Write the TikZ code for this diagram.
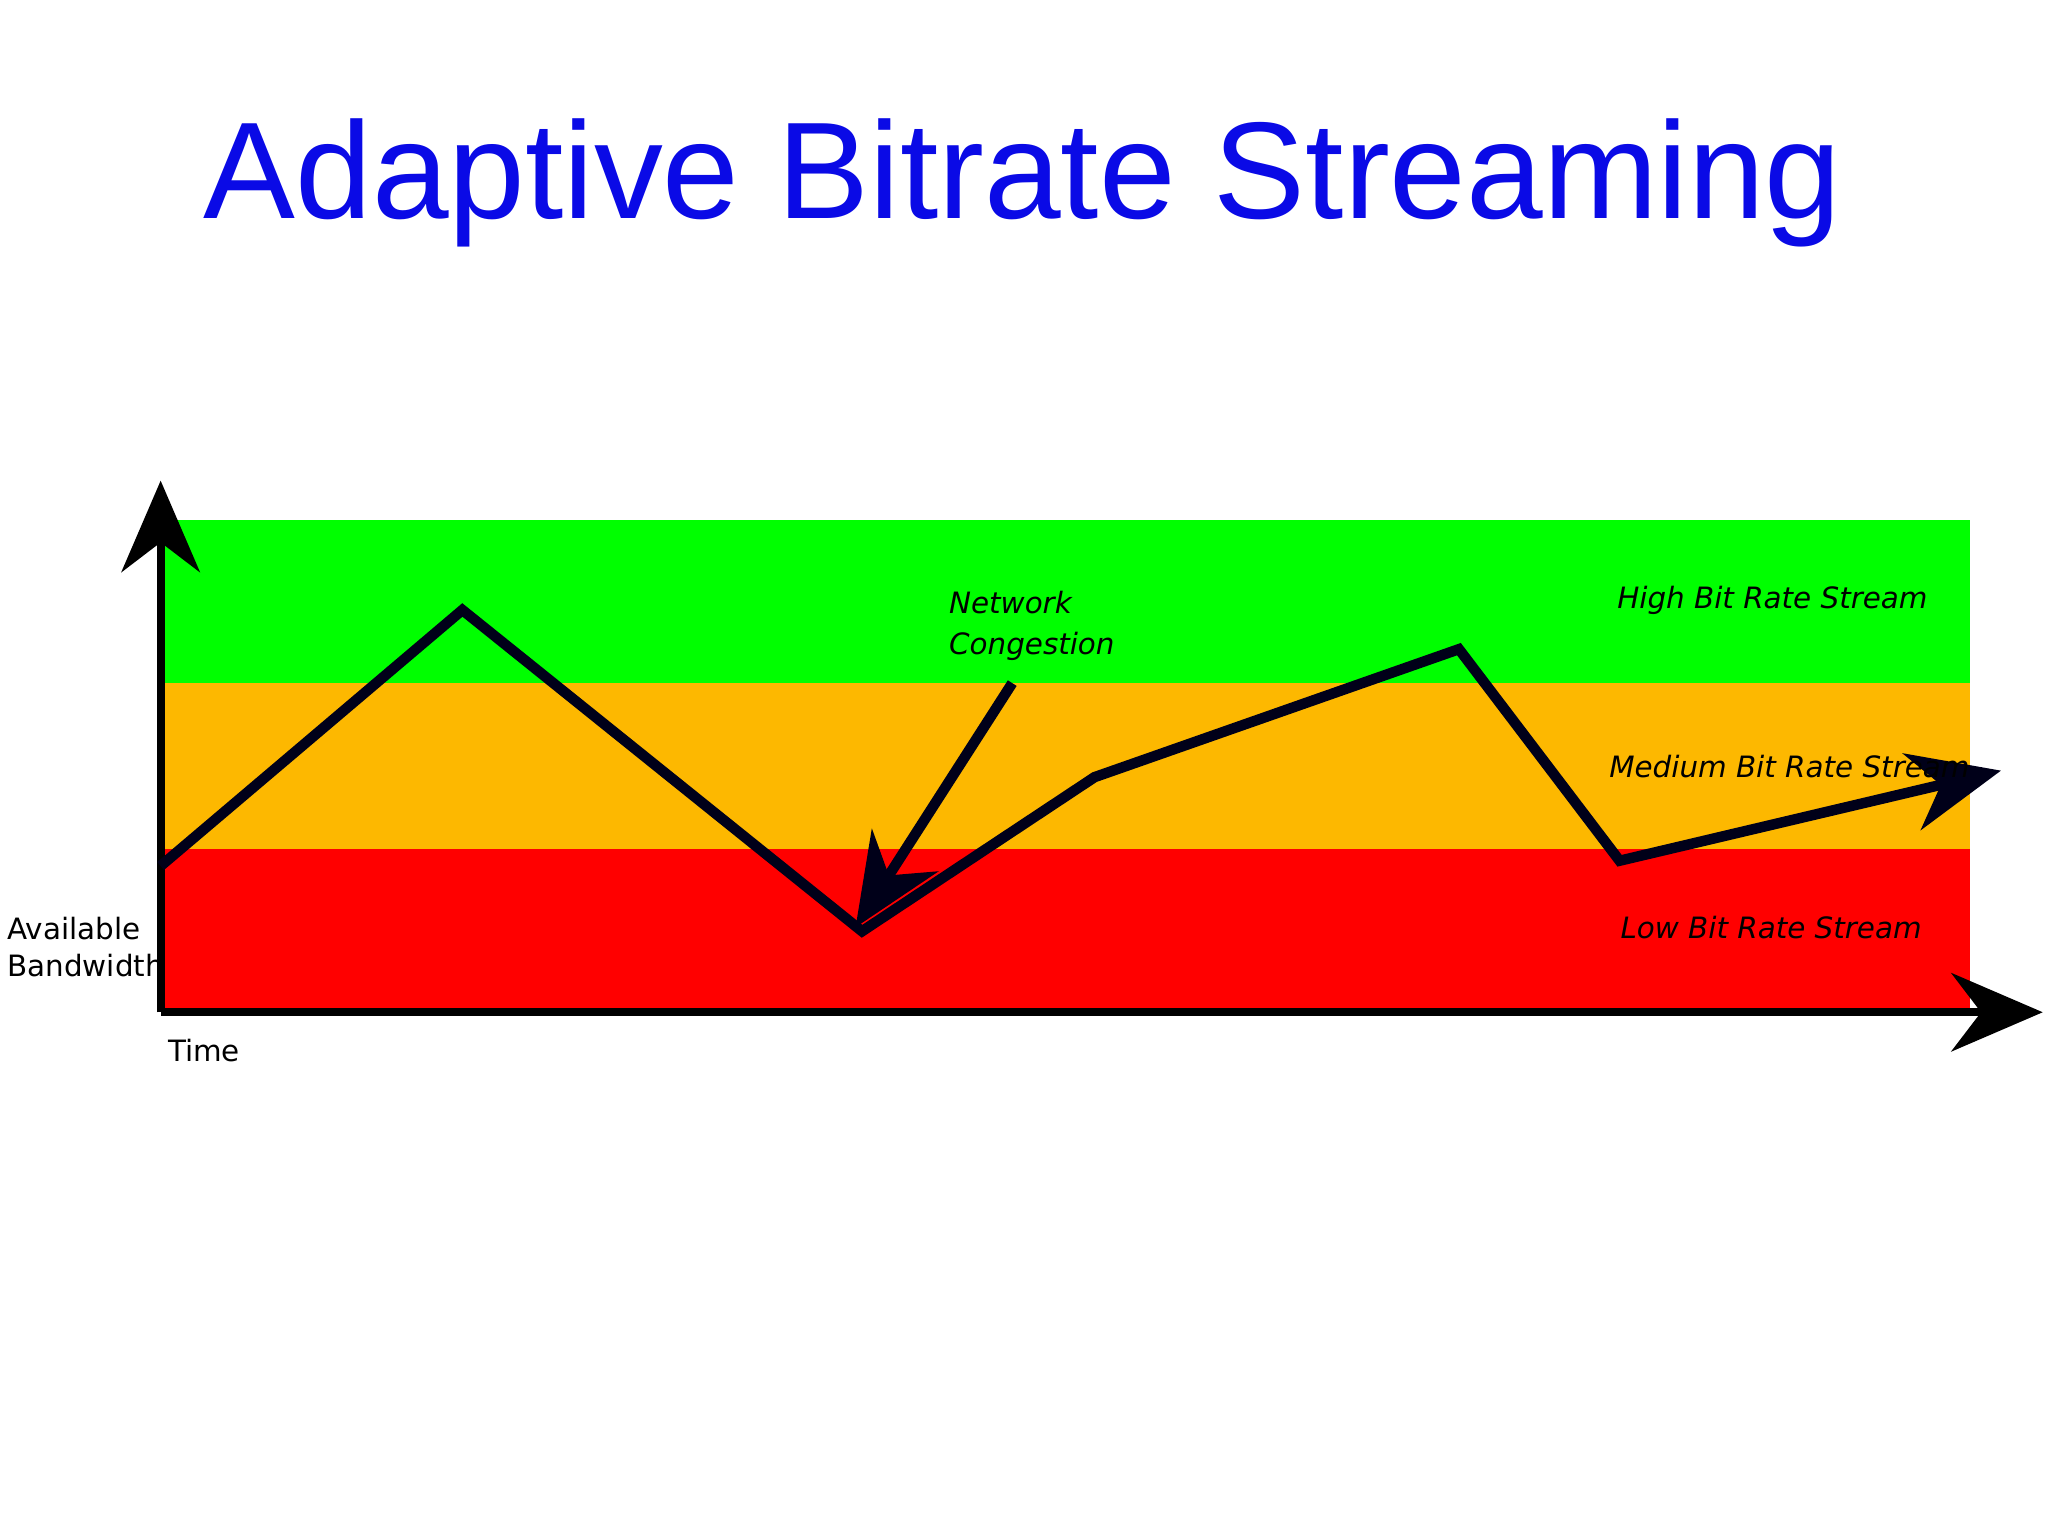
\documentclass[tikz,border=0pt]{standalone}
\usepackage{fontspec}
\setmainfont{DejaVu Sans}
\newfontfamily\titlefont{Liberation Sans}
\usetikzlibrary{arrows.meta}
\definecolor{bandG}{RGB}{0,255,0}
\definecolor{bandO}{RGB}{253,184,0}
\definecolor{bandR}{RGB}{255,0,0}
\definecolor{titleblue}{RGB}{10,10,230}
\tikzset{
  lbl/.style={font=\fontsize{6.4pt}{9pt}\selectfont\itshape, inner sep=0pt},
  axlbl/.style={font=\fontsize{6.4pt}{8.2pt}\selectfont, inner sep=0pt, align=left},
  tip/.style={-{Stealth[length=7mm,width=6mm]}},
  curve/.style={line width=0.8mm, color=black!90!blue, line join=miter}
}
\begin{document}
\begin{tikzpicture}[x=0.1mm,y=-0.1mm]
\useasboundingbox[fill=white] (0,0) rectangle (1568,1176);
\node[font=\fontsize{30pt}{36pt}\selectfont\titlefont, text=titleblue] (title) at (783,140) {Adaptive Bitrate Streaming};
\fill[bandG] (124,398) rectangle (1508,523);
\fill[bandO] (124,523) rectangle (1508,650);
\fill[bandR] (124,650) rectangle (1508,775);
\coordinate (o) at (123,775);
\coordinate (ytop) at (123,368);
\coordinate (xend) at (1564,775);
\draw[line width=0.6mm, tip] (o) -- (ytop);
\draw[line width=0.6mm, tip] (o) -- (xend);
\coordinate (p0) at (123,663);
\coordinate (p1) at (354,467);
\coordinate (p2) at (660,713);
\coordinate (p3) at (838,595);
\coordinate (p4) at (1117,497);
\coordinate (p5) at (1240,659);
\coordinate (p6) at (1532,590);
\draw[curve, tip] (p0) -- (p1) -- (p2) -- (p3) -- (p4) -- (p5) -- (p6);
\coordinate (cs) at (775,523);
\coordinate (ce) at (655,710);
\draw[curve, tip] (cs) -- (ce);
\node[lbl, anchor=west, align=left] (cong) at (726,479) {Network\\[0pt]Congestion};
\node[lbl] (high) at (1357,460) {High Bit Rate Stream};
\node[lbl] (med) at (1370,587) {Medium Bit Rate Stream};
\node[lbl] (low) at (1356,710) {Low Bit Rate Stream};
\node[axlbl, anchor=west] (avail) at (5,725) {Available\\Bandwidth};
\node[axlbl, anchor=west] (time) at (128,804) {Time};
\end{tikzpicture}
\end{document}
